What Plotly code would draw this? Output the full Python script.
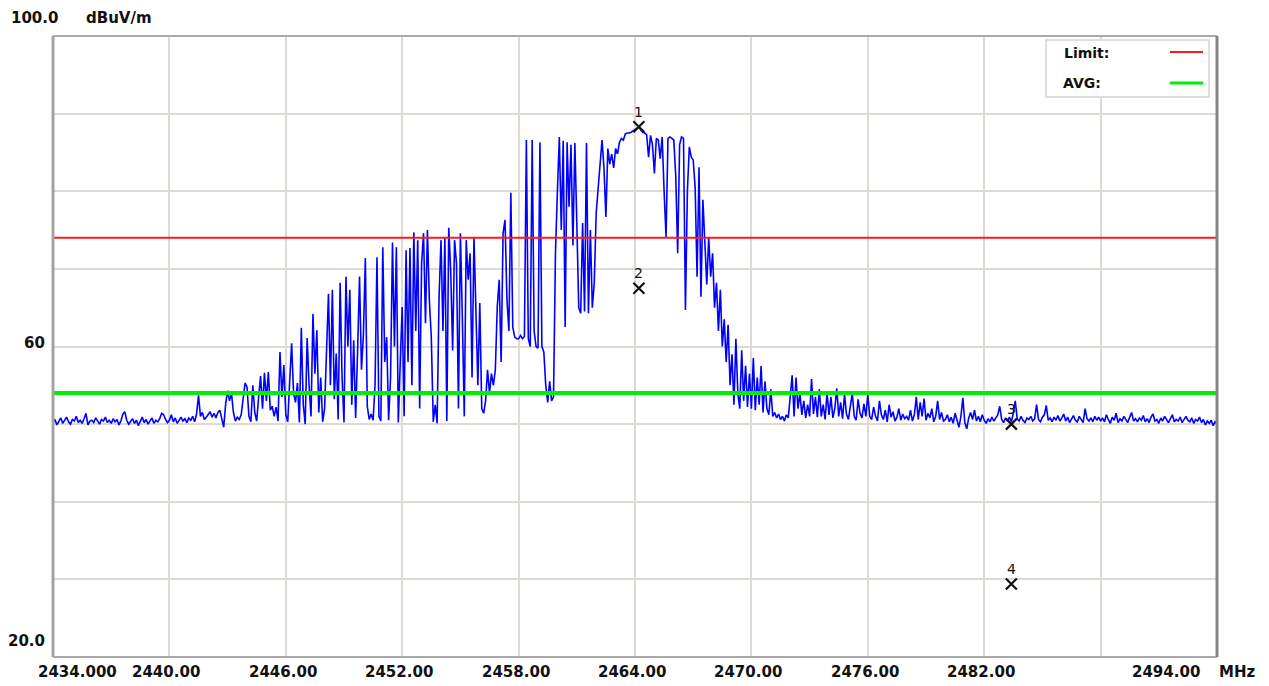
import plotly.graph_objects as go

# ---------------- data ----------------
freq_start = 2434.0
freq_step = 0.1
trace_level = [
    # 2434.0 - 2435.9
    50.2, 50.6, 49.9, 50.4, 50.8, 50.1, 50.5, 50.9, 50.3, 50.0, 50.6, 50.4, 51.0, 50.2, 50.5, 50.1, 50.7, 51.4, 49.9, 50.4,
    # 2436.0 - 2437.9
    50.5, 50.2, 50.8, 50.3, 50.0, 50.6, 50.4, 50.9, 50.2, 50.5, 50.1, 50.7, 50.3, 50.6, 49.9, 50.4, 51.3, 51.6, 50.5, 50.0,
    # 2438.0 - 2439.9
    50.3, 50.7, 50.1, 50.5, 49.8, 50.4, 50.9, 50.2, 50.6, 50.0, 50.4, 50.8, 50.1, 50.5, 50.3, 50.7, 51.4, 51.2, 50.6, 50.2,
    # 2440.0 - 2441.9
    50.5, 51.2, 50.3, 50.8, 50.1, 50.6, 50.9, 50.4, 50.7, 50.2, 50.8, 50.5, 51.0, 50.3, 51.3, 53.7, 51.0, 51.5, 50.6, 50.9,
    # 2442.0 - 2443.9
    51.2, 51.6, 50.9, 51.4, 50.8, 51.5, 51.8, 50.6, 49.6, 52.6, 54.3, 53.0, 54.0, 51.5, 50.4, 50.9, 50.6, 51.2, 53.5, 55.3,
    # 2444.0 - 2445.9
    54.8, 51.0, 50.3, 55.0, 51.5, 50.4, 53.5, 56.2, 52.0, 56.6, 53.0, 56.7, 51.8, 52.3, 51.0, 52.2, 50.4, 59.3, 53.5, 57.6,
    # 2446.0 - 2447.9
    51.2, 50.3, 55.5, 60.4, 54.0, 52.8, 55.3, 50.2, 62.4, 52.5, 50.0, 61.1, 55.0, 51.0, 64.2, 56.5, 62.1, 51.5, 56.0, 50.3,
    # 2448.0 - 2449.9
    52.0, 58.5, 66.8, 55.0, 67.3, 53.2, 59.1, 50.6, 68.2, 56.0, 50.2, 69.0, 60.0, 67.3, 52.5, 60.8, 50.8, 59.4, 69.0, 57.0,
    # 2450.0 - 2451.9
    61.5, 71.4, 52.3, 50.6, 51.3, 50.5, 55.0, 71.5, 51.0, 50.4, 72.8, 58.0, 61.2, 50.5, 56.0, 73.4, 60.0, 72.8, 50.2, 58.0,
    # 2452.0 - 2453.9
    65.1, 51.0, 72.4, 58.0, 72.7, 55.0, 74.7, 62.0, 73.7, 52.0, 70.7, 74.6, 63.0, 75.0, 66.0, 61.2, 50.3, 52.5, 50.1, 66.4,
    # 2454.0 - 2455.9
    73.7, 62.0, 74.1, 50.4, 75.3, 69.8, 59.5, 73.7, 70.7, 52.0, 74.6, 63.8, 51.0, 73.7, 68.6, 72.0, 56.0, 74.1, 63.8, 55.0,
    # 2456.0 - 2457.9
    65.6, 52.0, 51.4, 53.0, 57.0, 54.0, 56.5, 55.0, 57.0, 65.1, 68.6, 58.0, 74.6, 76.3, 66.0, 62.0, 79.8, 62.5, 61.2, 61.0,
    # 2458.0 - 2459.9
    61.0, 61.4, 61.0, 61.3, 86.6, 61.0, 60.0, 86.6, 62.0, 60.0, 59.8, 86.3, 60.0, 59.3, 55.0, 52.8, 55.5, 53.0, 53.5, 72.0,
    # 2460.0 - 2461.9
    80.0, 87.0, 75.0, 86.5, 62.5, 86.3, 78.0, 86.0, 73.0, 86.2, 76.0, 65.0, 64.3, 75.9, 64.5, 86.2, 64.3, 75.0, 65.0, 68.2,
    # 2462.0 - 2463.9
    77.2, 80.5, 84.0, 86.6, 83.0, 76.7, 85.5, 83.5, 84.8, 83.0, 85.5, 84.8, 86.3, 86.8, 86.6, 87.4, 87.5, 87.5, 87.6, 87.8,
    # 2464.0 - 2465.9
    87.9, 88.1, 88.3, 87.9, 87.6, 87.5, 87.3, 84.4, 87.2, 86.0, 82.3, 86.8, 86.6, 84.2, 87.0, 80.0, 74.1, 86.8, 87.0, 86.8,
    # 2466.0 - 2467.9
    86.6, 82.0, 72.0, 86.0, 87.0, 86.8, 64.7, 80.0, 85.7, 84.4, 84.0, 80.5, 69.0, 83.1, 66.4, 78.9, 74.1, 68.0, 74.0, 69.0,
    # 2468.0 - 2469.9
    72.0, 65.0, 68.2, 62.0, 67.3, 60.0, 63.5, 58.0, 62.8, 55.0, 59.0, 52.5, 61.0, 54.0, 52.0, 59.5, 53.0, 57.5, 52.2, 56.5,
    # 2470.0 - 2471.9
    52.0, 58.5, 51.8, 56.0, 52.5, 57.5, 51.5, 55.5, 52.0, 51.2, 54.5, 51.0, 51.5, 50.8, 51.3, 50.6, 51.0, 50.4, 51.2, 50.8,
    # 2472.0 - 2473.9
    53.5, 56.3, 51.0, 56.0, 52.0, 54.0, 51.2, 53.0, 50.8, 52.5, 51.0, 55.8, 51.3, 53.5, 50.9, 54.5, 51.0, 52.5, 50.6, 54.0,
    # 2474.0 - 2475.9
    51.2, 53.5, 50.8, 52.0, 54.6, 51.0, 52.8, 50.7, 53.8, 51.3, 50.6, 52.5, 54.0, 51.0, 50.5, 53.2, 51.4, 50.8, 52.6, 51.0,
    # 2476.0 - 2477.9
    53.8, 51.0, 50.6, 52.2, 51.0, 50.4, 53.0, 51.2, 50.6, 51.8, 50.3, 52.5, 50.9, 51.6, 50.4, 50.9, 52.0, 50.5, 51.3, 50.7,
    # 2478.0 - 2479.9
    51.0, 50.5, 51.8, 50.4, 51.2, 53.5, 50.6, 52.8, 51.0, 53.3, 50.5, 51.4, 50.8, 52.0, 50.3, 51.0, 53.0, 50.6, 51.5, 50.4,
    # 2480.0 - 2481.9
    50.6, 51.2, 50.3, 50.9, 50.1, 51.4, 50.5, 49.6, 51.0, 53.4, 50.2, 49.4, 50.8, 51.5, 50.6, 51.8, 50.4, 51.0, 50.3, 51.2,
    # 2482.0 - 2483.9
    50.5, 50.1, 50.7, 50.3, 50.9, 50.4, 50.8, 51.2, 52.3, 50.6, 50.2, 50.8, 50.4, 50.9, 50.3, 51.4, 53.0, 50.7, 50.4, 51.0,
    # 2484.0 - 2485.9
    50.5, 50.2, 50.8, 50.6, 51.0, 50.4, 50.7, 52.5, 50.6, 50.3, 50.9, 51.2, 52.4, 50.5, 50.8, 50.3, 50.9, 50.5, 51.1, 50.4,
    # 2486.0 - 2487.9
    50.8, 51.3, 50.4, 50.9, 50.2, 50.7, 51.1, 50.5, 50.3, 51.0, 50.6, 50.2, 52.0, 50.7, 50.4, 50.8, 50.3, 51.0, 50.5, 50.9,
    # 2488.0 - 2489.9
    50.4, 50.8, 50.3, 51.2, 50.6, 50.1, 50.9, 50.5, 51.4, 50.2, 50.7, 50.4, 51.0, 50.6, 50.2, 50.9, 51.5, 50.4, 50.7, 50.3,
    # 2490.0 - 2491.9
    50.8, 50.5, 51.1, 50.3, 50.7, 50.2, 50.9, 51.3, 50.4, 50.6, 50.1, 50.8, 50.4, 51.0, 50.5, 50.2, 50.7, 51.2, 50.3, 50.6,
    # 2492.0 - 2493.9
    50.4, 50.9, 50.2, 50.7, 51.0, 50.5, 50.3, 50.8, 50.1, 50.6, 50.4, 50.9, 50.2, 50.6, 49.9, 50.4, 50.1, 50.5, 49.8, 50.3,
    # 2494.0
    50.0,
]
trace_freq = [round(freq_start + freq_step * i, 1) for i in range(len(trace_level))]

limit_level = 74.0
avg_level = 54.0

marker_labels = ["1", "2", "3", "4"]
marker_freq = [2464.2, 2464.2, 2483.4, 2483.4]
marker_level = [88.3, 67.5, 50.0, 29.4]

x_min, x_max = 2434.0, 2494.0
y_min, y_max = 20.0, 100.0
x_grid = [2440, 2446, 2452, 2458, 2464, 2470, 2476, 2482, 2488]
y_grid = [30, 40, 50, 60, 70, 80, 90]
x_tick_vals = [2434, 2440, 2446, 2452, 2458, 2464, 2470, 2476, 2482, 2494]
x_tick_labels = ["2434.000", "2440.00", "2446.00", "2452.00", "2458.00", "2464.00",
                 "2470.00", "2476.00", "2482.00", "2494.00"]
y_tick_vals = [100, 60, 20]
y_tick_labels = ["100.0", "60", "20.0"]
unit_y = "dBuV/m"
unit_x = "MHz"
legend_names = ["Limit:", "AVG:"]

# ---------------- style ----------------
W, H = 1269, 686
L, R, T, B = 53, 52, 36, 29
PW, PH = W - L - R, H - T - B
FONT = "DejaVu Sans"
BLUE = "#0000ff"
RED = "#ff1a1a"
GREEN = "#00ee00"
GRID = "#dedbd4"


def px(x):
    return (x - L) / PW


def py(y):
    return 1 - (y - T) / PH


fig = go.Figure()

fig.add_trace(go.Scatter(x=trace_freq, y=trace_level, mode="lines",
                         line=dict(color=BLUE, width=1.6), showlegend=False,
                         hoverinfo="skip"))
fig.add_trace(go.Scatter(x=[x_min, x_max], y=[limit_level, limit_level], mode="lines",
                         line=dict(color=RED, width=2), showlegend=False))
fig.add_trace(go.Scatter(x=[x_min, x_max], y=[avg_level, avg_level], mode="lines",
                         line=dict(color=GREEN, width=4), showlegend=False))
fig.add_trace(go.Scatter(x=marker_freq, y=marker_level, mode="markers",
                         marker=dict(symbol="x-thin", size=11,
                                     line=dict(color="#111111", width=2.2)),
                         showlegend=False))

annotations = []
for f, lv, lab in zip(marker_freq, marker_level, marker_labels):
    annotations.append(dict(x=f, y=lv, xref="x", yref="y", text=lab, showarrow=False,
                            yshift=15, font=dict(family=FONT, size=14, color="#111111")))

# x tick labels
tick_font = dict(family=FONT, size=15, color="#111111", weight="bold")
for v, lab in zip(x_tick_vals, x_tick_labels):
    shift = -3
    if v == x_min:
        shift = 24
    elif v == x_max:
        shift = -51
    annotations.append(dict(x=v, y=py(672), xref="x", yref="paper", text=lab,
                            showarrow=False, xanchor="center", yanchor="middle",
                            xshift=shift, font=tick_font))
annotations.append(dict(x=px(1237), y=py(672), xref="paper", yref="paper", text=unit_x,
                        showarrow=False, xanchor="center", yanchor="middle", font=tick_font))

# y tick labels
y_pos = {100: (60, 18), 60: (47, 343), 20: (47, 641)}
for v, lab in zip(y_tick_vals, y_tick_labels):
    rx, cy = y_pos[v]
    annotations.append(dict(x=px(rx), y=py(cy), xref="paper", yref="paper", text=lab,
                            showarrow=False, xanchor="right", yanchor="middle", font=tick_font))
annotations.append(dict(x=px(119), y=py(18), xref="paper", yref="paper", text=unit_y,
                        showarrow=False, xanchor="center", yanchor="middle", font=tick_font))

# legend texts
leg_font = dict(family=FONT, size=14, color="#111111", weight="bold")
annotations.append(dict(x=px(1062), y=py(53), xref="paper", yref="paper", text=legend_names[0],
                        showarrow=False, xanchor="left", yanchor="middle", font=leg_font))
annotations.append(dict(x=px(1061), y=py(83), xref="paper", yref="paper", text=legend_names[1],
                        showarrow=False, xanchor="left", yanchor="middle", font=leg_font))

shapes = [
    # legend box
    dict(type="rect", xref="paper", yref="paper", x0=px(1046), x1=px(1209), y0=py(97), y1=py(40),
         fillcolor="white", line=dict(color="#d4d4d4", width=1.5), layer="above"),
    dict(type="line", xref="paper", yref="paper", x0=px(1170), x1=px(1203), y0=py(52), y1=py(52),
         line=dict(color=RED, width=2), layer="above"),
    dict(type="line", xref="paper", yref="paper", x0=px(1170), x1=px(1203), y0=py(83), y1=py(83),
         line=dict(color=GREEN, width=3), layer="above"),
    # frame
    dict(type="line", xref="paper", yref="paper", x0=0, x1=1, y0=1, y1=1,
         line=dict(color="#a9a9a9", width=2), layer="above"),
    dict(type="line", xref="paper", yref="paper", x0=0, x1=1, y0=0, y1=0,
         line=dict(color="#a9a9a9", width=2), layer="above"),
    dict(type="line", xref="paper", yref="paper", x0=0, x1=0, y0=0, y1=1,
         line=dict(color="#a3a3a3", width=3), layer="above"),
    dict(type="line", xref="paper", yref="paper", x0=1, x1=1, y0=0, y1=1,
         line=dict(color="#858585", width=3), layer="above"),
]

fig.update_layout(
    width=W, height=H,
    margin=dict(l=L, r=R, t=T, b=B, pad=0),
    paper_bgcolor="white", plot_bgcolor="white",
    showlegend=False,
    xaxis=dict(range=[x_min, x_max], tickvals=x_grid, showticklabels=False, ticks="",
               showgrid=True, gridcolor=GRID, gridwidth=2, zeroline=False, showline=False,
               fixedrange=True),
    yaxis=dict(range=[y_min, y_max], tickvals=y_grid, showticklabels=False, ticks="",
               showgrid=True, gridcolor=GRID, gridwidth=2, zeroline=False, showline=False,
               fixedrange=True),
    annotations=annotations,
    shapes=shapes,
)

fig.write_html("out.html", config={"displayModeBar": False},
               post_script="document.body.style.margin='0';document.body.style.overflow='hidden';")
